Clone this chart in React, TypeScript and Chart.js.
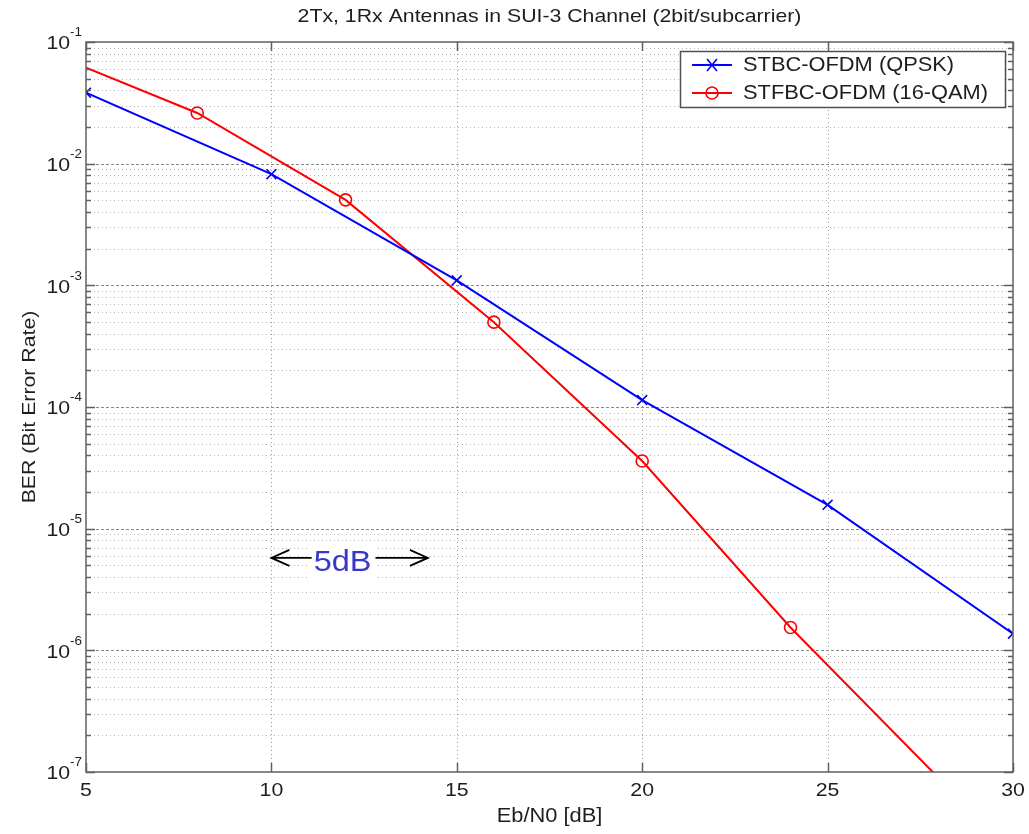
import React, { useEffect, useRef } from "react";
import { Chart, registerables } from "chart.js";
Chart.register(...registerables);

const titleText = "2Tx, 1Rx Antennas in SUI-3 Channel (2bit/subcarrier)";
const xLabel = "Eb/N0 [dB]";
const yLabel = "BER (Bit Error Rate)";

const seriesBlueLabel = "STBC-OFDM (QPSK)";
const ebN0Blue = [5, 10, 15, 20, 25, 30];
const berBlue = [0.0383, 0.0082, 1.1e-3, 1.14e-4, 1.57e-5, 1.37e-6];
const markBlue = [true, true, true, true, true, true];

const seriesRedLabel = "STFBC-OFDM (16-QAM)";
const ebN0Red = [5, 8, 12, 16, 20, 24, 28];
const berRed = [0.0615, 0.0261, 0.00504, 4.98e-4, 3.6e-5, 1.54e-6, 8.9e-8];
const markRed = [false, true, true, true, true, true, false];

const xTicks = [5, 10, 15, 20, 25, 30];
const yDecades = [-7, -6, -5, -4, -3, -2, -1];
const ySignificands = [1, 2, 3, 4, 5, 6, 7, 8, 9];

const annotationText = "5dB";
const annotationLeftX = 10;
const annotationCenterX = 11.92;
const annotationRightX = 14.22;
const annotationY = 5.75e-6;

const FONT = '"Liberation Sans", Arial, Helvetica, sans-serif';
const STRETCH = 1.12;

function isDecade(v: number) {
  const l = Math.log10(v);
  return Math.abs(l - Math.round(l)) < 1e-9;
}

function txt(ctx: any, s: string, x: number, y: number, size: number, align: string, color: string, rot = 0) {
  ctx.save();
  ctx.translate(x, y);
  if (rot) ctx.rotate(rot);
  ctx.scale(STRETCH, 1);
  ctx.font = `${size}px ${FONT}`;
  ctx.fillStyle = color;
  ctx.textAlign = align;
  ctx.textBaseline = "middle";
  ctx.fillText(s, 0, 0);
  ctx.restore();
}

function txtWidth(ctx: any, s: string, size: number) {
  ctx.save();
  ctx.font = `${size}px ${FONT}`;
  const w = ctx.measureText(s).width * STRETCH;
  ctx.restore();
  return w;
}

const gridPlugin = {
  id: "matlabGrid",
  beforeDatasetsDraw(chart: any) {
    const { ctx, chartArea: a, scales } = chart;
    const xs = scales.x;
    const ys = scales.y;
    ctx.save();
    ctx.lineWidth = 1;
    ys.ticks.forEach((t: any) => {
      const y = Math.round(ys.getPixelForValue(t.value)) + 0.5;
      if (y <= a.top + 1 || y >= a.bottom - 1) return;
      const dec = isDecade(t.value);
      ctx.strokeStyle = dec ? "#8a8a8a" : "#b4b4b4";
      ctx.setLineDash(dec ? [3, 2] : [1, 3]);
      ctx.beginPath();
      ctx.moveTo(a.left, y);
      ctx.lineTo(a.right, y);
      ctx.stroke();
    });
    xTicks.forEach((v) => {
      const x = Math.round(xs.getPixelForValue(v)) + 0.5;
      if (x <= a.left + 1 || x >= a.right - 1) return;
      ctx.strokeStyle = "#9a9a9a";
      ctx.setLineDash([1, 3]);
      ctx.beginPath();
      ctx.moveTo(x, a.top);
      ctx.lineTo(x, a.bottom);
      ctx.stroke();
    });
    ctx.restore();
  },
  afterDraw(chart: any) {
    const { ctx, chartArea: a, scales } = chart;
    const xs = scales.x;
    const ys = scales.y;
    ctx.save();
    ctx.setLineDash([]);
    ctx.strokeStyle = "#606060";
    ctx.lineWidth = 1.5;
    ctx.strokeRect(a.left, a.top, a.right - a.left, a.bottom - a.top);
    ys.ticks.forEach((t: any) => {
      const y = Math.round(ys.getPixelForValue(t.value)) + 0.5;
      const len = isDecade(t.value) ? 9 : 5;
      ctx.beginPath();
      ctx.moveTo(a.left, y);
      ctx.lineTo(a.left + len, y);
      ctx.moveTo(a.right, y);
      ctx.lineTo(a.right - len, y);
      ctx.stroke();
    });
    xTicks.forEach((v) => {
      const x = Math.round(xs.getPixelForValue(v)) + 0.5;
      ctx.beginPath();
      ctx.moveTo(x, a.bottom);
      ctx.lineTo(x, a.bottom - 9);
      ctx.moveTo(x, a.top);
      ctx.lineTo(x, a.top + 9);
      ctx.stroke();
    });
    const tc = "#1e1e1e";
    xTicks.forEach((v) => {
      txt(ctx, String(v), xs.getPixelForValue(v), a.bottom + 19, 19, "center", tc);
    });
    yDecades.forEach((e) => {
      const y = ys.getPixelForValue(Math.pow(10, e));
      const expStr = String(e);
      const ew = txtWidth(ctx, expStr, 12);
      const expRight = a.left - 4;
      txt(ctx, expStr, expRight, y - 9, 12, "right", tc);
      txt(ctx, "10", expRight - ew, y + 2, 19, "right", tc);
    });
    txt(ctx, titleText, (a.left + a.right) / 2, 17, 19, "center", tc);
    txt(ctx, xLabel, (a.left + a.right) / 2, a.bottom + 45, 19.5, "center", tc);
    txt(ctx, yLabel, 30, (a.top + a.bottom) / 2, 19, "center", tc, -Math.PI / 2);

    // legend
    const lx = 680, ly = 51, lw = 325, lh = 56;
    ctx.fillStyle = "#fff";
    ctx.fillRect(lx, ly, lw, lh);
    ctx.strokeStyle = "#505050";
    ctx.lineWidth = 1.5;
    ctx.strokeRect(lx + 0.5, ly + 0.5, lw, lh);
    chart.data.datasets.forEach((ds: any, i: number) => {
      const yy = ly + 14 + i * 28;
      ctx.strokeStyle = ds.borderColor;
      ctx.lineWidth = 2;
      ctx.beginPath();
      ctx.moveTo(lx + 12, yy);
      ctx.lineTo(lx + 52, yy);
      ctx.stroke();
      const mx = lx + 32;
      ctx.lineWidth = 1.6;
      ctx.beginPath();
      if (ds.pointStyle === "crossRot") {
        ctx.moveTo(mx - 5, yy - 6);
        ctx.lineTo(mx + 5, yy + 6);
        ctx.moveTo(mx + 5, yy - 6);
        ctx.lineTo(mx - 5, yy + 6);
      } else {
        ctx.arc(mx, yy, 6, 0, Math.PI * 2);
      }
      ctx.stroke();
      txt(ctx, ds.label, lx + 63, yy + 1, 19.5, "left", tc);
    });

    // annotation
    const ay = ys.getPixelForValue(annotationY);
    const xL = xs.getPixelForValue(annotationLeftX);
    const xC = xs.getPixelForValue(annotationCenterX);
    const xR = xs.getPixelForValue(annotationRightX);
    const tw = txtWidth(ctx, annotationText, 29);
    ctx.fillStyle = "#fff";
    ctx.fillRect(xC - tw / 2 - 5, ay - 14, tw + 10, 34);
    txt(ctx, annotationText, xC, ay + 5, 29, "center", "#3838c8");
    ctx.strokeStyle = "#000";
    ctx.lineWidth = 1.8;
    ctx.beginPath();
    ctx.moveTo(xL, ay);
    ctx.lineTo(xC - tw / 2 - 2, ay);
    ctx.moveTo(xL + 18, ay - 8);
    ctx.lineTo(xL, ay);
    ctx.lineTo(xL + 18, ay + 8);
    ctx.moveTo(xC + tw / 2 + 4, ay);
    ctx.lineTo(xR, ay);
    ctx.moveTo(xR - 18, ay - 8);
    ctx.lineTo(xR, ay);
    ctx.lineTo(xR - 18, ay + 8);
    ctx.stroke();
    ctx.restore();
  },
};

export default function App() {
  const ref = useRef<HTMLCanvasElement>(null);
  useEffect(() => {
    if (!ref.current) return;
    const chart = new Chart(ref.current, {
      type: "line",
      data: {
        datasets: [
          {
            label: seriesBlueLabel,
            data: ebN0Blue.map((x, i) => ({ x, y: berBlue[i] })),
            borderColor: "#0000ff",
            backgroundColor: "#0000ff",
            borderWidth: 2,
            pointStyle: "crossRot",
            pointRadius: markBlue.map((m) => (m ? 7 : 0)),
            pointBorderWidth: 1.6,
            pointBorderColor: "#0000ff",
            tension: 0,
            fill: false,
          },
          {
            label: seriesRedLabel,
            data: ebN0Red.map((x, i) => ({ x, y: berRed[i] })),
            borderColor: "#ff0000",
            backgroundColor: "rgba(0,0,0,0)",
            borderWidth: 2,
            pointStyle: "circle",
            pointRadius: markRed.map((m) => (m ? 6 : 0)),
            pointBorderWidth: 1.6,
            pointBorderColor: "#ff0000",
            pointBackgroundColor: "rgba(0,0,0,0)",
            tension: 0,
            fill: false,
          },
        ],
      },
      plugins: [gridPlugin],
      options: {
        responsive: false,
        animation: false,
        events: [],
        layout: { padding: { top: 42, right: 16, left: 0, bottom: 0 } },
        plugins: {
          legend: { display: false },
          title: { display: false },
          tooltip: { enabled: false },
        },
        scales: {
          x: {
            type: "linear",
            min: 5,
            max: 30,
            grid: { display: false, drawTicks: false },
            border: { display: false },
            ticks: { display: false, stepSize: 5 },
            afterFit: (s: any) => {
              s.height = 62;
            },
          },
          y: {
            type: "logarithmic",
            min: 1e-7,
            max: 1e-1,
            grid: { display: false, drawTicks: false },
            border: { display: false },
            ticks: { display: false },
            afterBuildTicks: (s: any) => {
              const t: any[] = [];
              yDecades.forEach((e) => {
                ySignificands.forEach((m) => {
                  const v = m * Math.pow(10, e);
                  if (v <= 1e-1 * 1.0000001) t.push({ value: v });
                });
              });
              s.ticks = t;
            },
            afterFit: (s: any) => {
              s.width = 86;
            },
          },
        },
      } as any,
    });
    return () => chart.destroy();
  }, []);
  return (
    <div style={{ position: "absolute", left: 0, top: 0, width: 1029, height: 834, background: "#fff" }}>
      <canvas ref={ref} width={1029} height={834} style={{ display: "block" }} />
    </div>
  );
}
